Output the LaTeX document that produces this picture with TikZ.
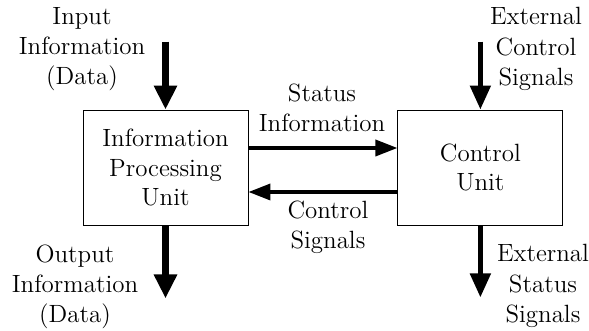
\documentclass[tikz,border=0pt]{standalone}
\usepackage{tikz}
\usetikzlibrary{positioning}
\usetikzlibrary{arrows.meta}

\tikzset{
	unitbox/.style={draw, line width=0.5pt, minimum width=3.30cm, minimum height=2.30cm, inner sep=0pt, align=center, font=\rmfamily\fontsize{14.2}{16.6}\selectfont},
	tag/.style={inner sep=0pt, align=center, font=\rmfamily\fontsize{14.2}{17.2}\selectfont},
	bigflow/.style={line width=4.5pt, -{Triangle[length=0.48cm, width=0.44cm]}},
	midflow/.style={line width=2.8pt, -{Triangle[length=0.48cm, width=0.40cm]}},
	sideflow/.style={line width=2.0pt, -{Triangle[length=0.44cm, width=0.32cm]}},
}

\begin{document}
\begin{tikzpicture}
	
	% ------------------------------------------------
	% Ensure the dimensions of graphic are appropriate
	\useasboundingbox (0,0) rectangle (11.78cm,6.62cm);
	
	% ------------------------------------------------
	% Units
	\node[unitbox] (IPU) at (3.31cm,3.27cm) {Information\\Processing\\Unit};
	\node[unitbox, right=2.98cm of IPU] (CU) {Control\\Unit};
	
	% ------------------------------------------------
	% Relevant coordinates
	\path (IPU.north)	+(0.00cm, 1.36cm) coordinate (InTop);
	\path (IPU.south)	+(0.00cm,-1.46cm) coordinate (OutEnd);
	\path (CU.north)	+(0.00cm, 1.36cm) coordinate (ExtCtlTop);
	\path (CU.south)	+(0.00cm,-1.44cm) coordinate (ExtStatEnd);
	
	% ----------------
	% Flows
	\draw[bigflow] (InTop) -- (IPU.north);
	\draw[bigflow] (IPU.south) -- (OutEnd);
	\draw[midflow] (ExtCtlTop) -- (CU.north);
	\draw[midflow] (CU.south) -- (ExtStatEnd);
	
	\draw[sideflow] ([yshift=0.39cm]IPU.east) -- ([yshift=0.39cm]CU.west);
	\draw[sideflow] ([yshift=-0.49cm]CU.west) -- ([yshift=-0.49cm]IPU.east);
	
	% ----------------
	% Labels
	\node[tag] (InText)      at (1.64cm,5.64cm)  {Input\\Information\\(Data)};
	\node[tag] (ExtCtlText)  at (10.72cm,5.64cm) {External\\Control\\Signals};
	\node[tag] (StatText)    at (6.44cm,4.47cm)  {Status\\Information};
	\node[tag] (CtlText)     at (6.56cm,2.07cm)  {Control\\Signals};
	\node[tag] (OutText)     at (1.50cm,0.88cm)  {Output\\Information\\(Data)};
	\node[tag] (ExtStatText) at (10.86cm,0.90cm) {External\\Status\\Signals};
	
\end{tikzpicture}
\end{document}
